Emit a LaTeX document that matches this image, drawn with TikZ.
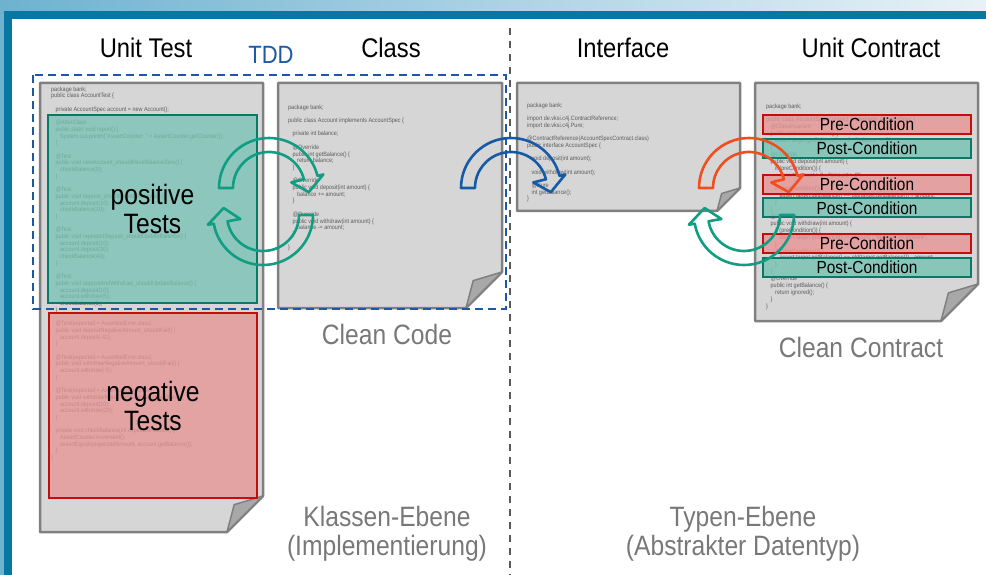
\documentclass[tikz,border=0pt]{standalone}
\usepackage{fontspec}
\setmainfont[FakeStretch=0.88]{Liberation Sans}
\usetikzlibrary{calc,positioning}

\definecolor{framelight}{RGB}{110,178,208}
\definecolor{framepale}{RGB}{232,242,247}
\definecolor{framedark}{RGB}{8,120,162}
\definecolor{pagegray}{RGB}{214,214,214}
\definecolor{pageline}{RGB}{128,128,128}
\definecolor{flapgray}{RGB}{168,168,168}
\definecolor{codegray}{RGB}{92,92,92}
\definecolor{posfill}{RGB}{118,194,180}
\definecolor{posline}{RGB}{10,122,104}
\definecolor{negfill}{RGB}{232,148,148}
\definecolor{negline}{RGB}{196,14,14}
\definecolor{tddblue}{RGB}{28,88,164}
\definecolor{cyclegreen}{RGB}{16,158,130}
\definecolor{cycleblue}{RGB}{22,90,166}
\definecolor{cycleorange}{RGB}{240,78,30}
\definecolor{labelgray}{RGB}{120,120,120}

% sheet with folded corner: page node, fold size
\newcommand{\docpage}[2]{%
  \filldraw[page] (#1.north west) -- (#1.north east) -- ($(#1.south east)+(0,-#2)$)
    -- ($(#1.south east)+(-#2,0)$) -- (#1.south west) -- cycle;
  \filldraw[flap] ($(#1.south east)+(0,-#2)$) -- ($(#1.south east)+(-0.8*#2,-0.76*#2)$)
    -- ($(#1.south east)+(-#2,0)$) -- cycle;}
% hollow bent arrow: centre, start angle, end angle, colour
\newcommand{\cyclearrow}[4]{%
  \draw[cyclearrow, draw=#4] ($(#1)+(#2:50)$) arc[start angle=#2, end angle=#3, radius=50]
    -- ($(#1)+(#3:56)$) -- ($(#1)+({#3+20}:40)$) -- ($(#1)+(#3:23)$)
    -- ($(#1)+(#3:36)$) arc[start angle=#3, end angle=#2, radius=36] -- cycle;}
\newcommand{\codeind}{\hspace*{4.5pt}}

\begin{document}
\begin{tikzpicture}[
  x=1pt, y=-1pt,
  title/.style={anchor=base, font=\fontsize{27}{30}\selectfont},
  caption/.style={align=center, text=labelgray, font=\fontsize{28}{29}\selectfont},
  pagebox/.style={anchor=north west, inner sep=0pt, outer sep=0pt},
  page/.style={fill=pagegray, draw=pageline, line width=2.5pt, line join=round},
  flap/.style={fill=flapgray, draw=pageline, line width=1.5pt, line join=round},
  code/.style={anchor=north west, inner sep=0pt, align=left, text=codegray, font=\fontsize{6.2}{6.7}\selectfont},
  testbox/.style={anchor=north west, draw, line width=2pt, fill opacity=0.76, text opacity=1, inner sep=0pt,
    align=center, font=\fontsize{28}{29}\selectfont},
  cond/.style={draw, line width=2pt, fill opacity=0.8, text opacity=1, minimum width=208pt, minimum height=19pt,
    inner sep=0pt, font=\fontsize{17.5}{18}\selectfont},
  cyclearrow/.style={line width=2.6pt, line join=round}
]
\useasboundingbox (0,0) rectangle (986,575);

% frame
\shade[left color=framelight, right color=framepale] (0,0) rectangle (986,11);
\fill[framedark] (0,11) rectangle (986,19);
\fill[framelight] (0,11) rectangle (4,575);
\fill[framedark] (4,11) rectangle (12,575);

% sheets
\node[pagebox, minimum width=223pt, minimum height=449pt] (utpage) at (40,83) {};
\node[pagebox, minimum width=224pt, minimum height=225pt] (clspage) at (278,83) {};
\node[pagebox, minimum width=223pt, minimum height=128pt] (ifpage) at (517,83) {};
\node[pagebox, minimum width=223pt, minimum height=238pt] (ucpage) at (755,83) {};
\docpage{utpage}{36}
\docpage{clspage}{36}
\docpage{ifpage}{23}
\docpage{ucpage}{37}

% code on the sheets
\node[code] (utcode) at (51,86.5) {package bank;\\
public class AccountTest \{\\
~\\
\codeind private AccountSpec account = new Account();\\
~\\
\codeind @AfterClass\\
\codeind public static void report() \{\\
\codeind\codeind System.out.println("AssertCounter: " + AssertCounter.getCounter());\\
\codeind \}\\
~\\
\codeind @Test\\
\codeind public void newAccount\_shouldHaveBalanceZero() \{\\
\codeind\codeind checkBalance(0);\\
\codeind \}\\
~\\
\codeind @Test\\
\codeind public void deposit\_shouldUpdateBalance() \{\\
\codeind\codeind account.deposit(10);\\
\codeind\codeind checkBalance(10);\\
\codeind \}\\
~\\
\codeind @Test\\
\codeind public void repeatedDeposit\_shouldUpdateBalance() \{\\
\codeind\codeind account.deposit(10);\\
\codeind\codeind account.deposit(30);\\
\codeind\codeind checkBalance(40);\\
\codeind \}\\
~\\
\codeind @Test\\
\codeind public void depositAndWithdraw\_shouldUpdateBalance() \{\\
\codeind\codeind account.deposit(10);\\
\codeind\codeind account.withdraw(5);\\
\codeind\codeind checkBalance(5);\\
\codeind \}\\
~\\
\codeind @Test(expected = AssertionError.class)\\
\codeind public void depositNegativeAmount\_shouldFail() \{\\
\codeind\codeind account.deposit(-42);\\
\codeind \}\\
~\\
\codeind @Test(expected = AssertionError.class)\\
\codeind public void withdrawNegativeAmount\_shouldFail() \{\\
\codeind\codeind account.withdraw(-5);\\
\codeind \}\\
~\\
\codeind @Test(expected = AssertionError.class)\\
\codeind public void withdrawMoreThanBalance\_shouldFail() \{\\
\codeind\codeind account.deposit(10);\\
\codeind\codeind account.withdraw(20);\\
\codeind \}\\
~\\
\codeind private void checkBalance(int expectedAmount) \{\\
\codeind\codeind AssertCounter.increment();\\
\codeind\codeind assertEquals(expectedAmount, account.getBalance());\\
\codeind \}\\
\}};
\node[code] (clscode) at (288,104.5) {package bank;\\
~\\
public class Account implements AccountSpec \{\\
~\\
\codeind private int balance;\\
~\\
\codeind @Override\\
\codeind public int getBalance() \{\\
\codeind\codeind return balance;\\
\codeind \}\\
~\\
\codeind @Override\\
\codeind public void deposit(int amount) \{\\
\codeind\codeind balance += amount;\\
\codeind \}\\
~\\
\codeind @Override\\
\codeind public void withdraw(int amount) \{\\
\codeind\codeind balance -= amount;\\
\codeind \}\\
~\\
\}};
\node[code] (ifcode) at (527,102.5) {package bank;\\
~\\
import de.vksi.c4j.ContractReference;\\
import de.vksi.c4j.Pure;\\
~\\
@ContractReference(AccountSpecContract.class)\\
public interface AccountSpec \{\\
~\\
\codeind void deposit(int amount);\\
~\\
\codeind void withdraw(int amount);\\
~\\
\codeind @Pure\\
\codeind int getBalance();\\
\}};
\node[code, font=\fontsize{6.2}{6.9}\selectfont] (uccode) at (766,103.5) {package bank;\\
~\\
public class AccountSpecContract implements AccountSpec \{\\
\codeind @ClassInvariant\\
\codeind public void classInvariant() \{\\
\codeind\codeind assert target.getBalance() >= 0 : "balance >= 0";\\
\codeind \}\\
\codeind @Override\\
\codeind public void deposit(int amount) \{\\
\codeind\codeind if (preCondition()) \{\\
\codeind\codeind\codeind assert amount > 0 : "amount > 0";\\
\codeind\codeind \}\\
\codeind\codeind if (postCondition()) \{\\
\codeind\codeind\codeind assert target.getBalance() == old(target.getBalance()) + amount;\\
\codeind\codeind \}\\
\codeind \}\\
\codeind @Override\\
\codeind public void withdraw(int amount) \{\\
\codeind\codeind if (preCondition()) \{\\
\codeind\codeind\codeind assert target.getBalance() >= amount : "balance >= amount";\\
\codeind\codeind \}\\
\codeind\codeind if (postCondition()) \{\\
\codeind\codeind\codeind assert target.getBalance() == old(target.getBalance()) - amount;\\
\codeind\codeind \}\\
\codeind \}\\
\codeind @Override\\
\codeind public int getBalance() \{\\
\codeind\codeind return ignored();\\
\codeind \}\\
\}};

% test groups
\node[testbox, fill=posfill, draw=posline, minimum width=209pt, minimum height=188pt] (postests) at (47,114) {positive\\Tests};
\node[testbox, fill=negfill, draw=negline, minimum width=208pt, minimum height=185pt] (negtests) at (48,312) {negative\\Tests};

% contract conditions
\node[cond, fill=negfill, draw=negline] (pre1) at (867,124.5) {Pre-Condition};
\node[cond, fill=posfill, draw=posline] (post1) at (867,148.5) {Post-Condition};
\node[cond, fill=negfill, draw=negline] (pre2) at (867,184.5) {Pre-Condition};
\node[cond, fill=posfill, draw=posline] (post2) at (867,208) {Post-Condition};
\node[cond, fill=negfill, draw=negline] (pre3) at (867,243.5) {Pre-Condition};
\node[cond, fill=posfill, draw=posline] (post3) at (867,267) {Post-Condition};

% headings and captions
\node[title] (uttitle) at (146,58) {Unit Test};
\node[title] (clstitle) at (391,58) {Class};
\node[title] (iftitle) at (623,58) {Interface};
\node[title] (uctitle) at (871,58) {Unit Contract};
\node[title, text=tddblue, font=\fontsize{25}{28}\selectfont] (tddlabel) at (271,64) {TDD};
\node[caption, anchor=base] (cleancode) at (387,344) {Clean Code};
\node[caption, anchor=base] (cleancontract) at (861,357) {Clean Contract};
\node[caption] (classlevel) at (387,534) {Klassen-Ebene\\(Implementierung)};
\node[caption] (typelevel) at (743,534) {Typen-Ebene\\(Abstrakter Datentyp)};

% TDD frame and level divider
\draw[tddblue, line width=2.2pt, dash pattern=on 8pt off 5pt] (33,75) rectangle (506,309);
\draw[black!65, line width=1.3pt, dash pattern=on 7pt off 6pt] (510,28) -- (510,575);

% cycles
\coordinate (testtoclass) at (269,188);
\coordinate (classtotest) at (263,215);
\coordinate (classtoif) at (511,188);
\coordinate (iftocontract) at (749,188);
\coordinate (contracttoif) at (744,215);
\cyclearrow{testtoclass}{180}{346}{cyclegreen}
\cyclearrow{classtotest}{0}{170}{cyclegreen}
\cyclearrow{classtoif}{180}{346}{cycleblue}
\cyclearrow{iftocontract}{180}{346}{cycleorange}
\cyclearrow{contracttoif}{0}{170}{cyclegreen}
\end{tikzpicture}
\end{document}
